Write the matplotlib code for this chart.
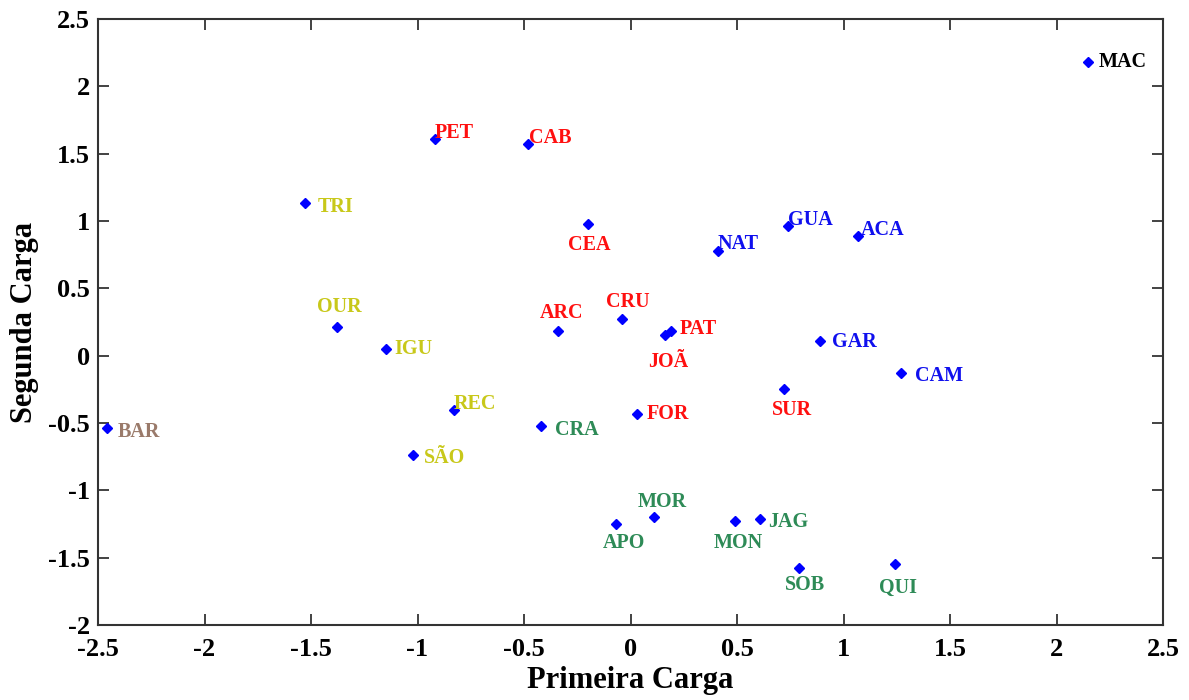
import matplotlib
matplotlib.use('Agg')
import matplotlib.pyplot as plt

# site codes and their loadings
sites = ['MAC', 'PET', 'CAB', 'TRI', 'CEA', 'NAT', 'GUA', 'ACA', 'OUR', 'IGU',
         'ARC', 'CRU', 'JOÃ', 'PAT', 'GAR', 'CAM', 'SUR', 'REC', 'FOR', 'CRA',
         'BAR', 'SÃO', 'MOR', 'APO', 'MON', 'JAG', 'SOB', 'QUI']
primeira = [2.15, -0.92, -0.48, -1.53, -0.20, 0.41, 0.74, 1.07, -1.38, -1.15,
            -0.34, -0.04, 0.16, 0.19, 0.89, 1.27, 0.72, -0.83, 0.03, -0.42,
            -2.46, -1.02, 0.11, -0.07, 0.49, 0.61, 0.79, 1.24]
segunda = [2.18, 1.61, 1.57, 1.13, 0.98, 0.78, 0.96, 0.89, 0.21, 0.05,
           0.18, 0.27, 0.15, 0.18, 0.11, -0.13, -0.25, -0.40, -0.43, -0.52,
           -0.54, -0.74, -1.20, -1.25, -1.23, -1.21, -1.58, -1.55]
groups = ['preto', 'vermelho', 'vermelho', 'amarelo', 'vermelho', 'azul', 'azul', 'azul',
          'amarelo', 'amarelo', 'vermelho', 'vermelho', 'vermelho', 'vermelho', 'azul',
          'azul', 'vermelho', 'amarelo', 'vermelho', 'verde', 'marrom', 'amarelo',
          'verde', 'verde', 'verde', 'verde', 'verde', 'verde']

group_colors = {'preto': '#000000', 'vermelho': '#ff1010', 'amarelo': '#c8c81a',
                'azul': '#1010ee', 'verde': '#2e8b57', 'marrom': '#9a7a6a'}

# label placement (pixel offset, alignment)
label_pos = {
    'MAC': (10, 0, 'left'), 'PET': (0, 6, 'left'), 'CAB': (1, 6, 'left'),
    'TRI': (13, -4, 'left'), 'CEA': (1, -21, 'center'), 'NAT': (0, 7, 'left'),
    'GUA': (0, 6, 'left'), 'ACA': (2, 6, 'left'), 'OUR': (3, 20, 'center'),
    'IGU': (9, 0, 'left'), 'ARC': (4, 18, 'center'), 'CRU': (6, 17, 'center'),
    'JOÃ': (4, -27, 'center'), 'PAT': (9, 2, 'left'), 'GAR': (12, -1, 'left'),
    'CAM': (14, -3, 'left'), 'SUR': (8, -21, 'center'), 'REC': (0, 6, 'left'),
    'FOR': (10, 0, 'left'), 'CRA': (14, -4, 'left'), 'BAR': (11, -4, 'left'),
    'SÃO': (11, -3, 'left'), 'MOR': (8, 15, 'center'), 'APO': (8, -19, 'center'),
    'MON': (3, -22, 'center'), 'JAG': (8, -3, 'left'), 'SOB': (6, -17, 'center'),
    'QUI': (3, -23, 'center'),
}

plt.rcParams['font.family'] = ['Liberation Serif', 'DejaVu Serif']
plt.rcParams['font.weight'] = 'bold'

fig = plt.figure(figsize=(11.89, 7.0), dpi=100)
ax = fig.add_axes([98 / 1189, 75 / 700, 1065 / 1189, 606 / 700])

ax.plot(primeira, segunda, 'D', color='#0000ff', markersize=5, linestyle='none')

for name, xv, yv, g in zip(sites, primeira, segunda, groups):
    dx, dy, ha = label_pos[name]
    ax.annotate(name, (xv, yv), xytext=(dx, dy), textcoords='offset pixels',
                ha=ha, va='center', fontsize=14.5, fontweight='bold',
                color=group_colors[g])

ax.set_xlim(-2.5, 2.5)
ax.set_ylim(-2, 2.5)
ax.set_xticks([-2.5, -2, -1.5, -1, -0.5, 0, 0.5, 1, 1.5, 2, 2.5])
ax.set_yticks([-2, -1.5, -1, -0.5, 0, 0.5, 1, 1.5, 2, 2.5])
ax.set_xticklabels(['-2.5', '-2', '-1.5', '-1', '-0.5', '0', '0.5', '1', '1.5', '2', '2.5'])
ax.set_yticklabels(['-2', '-1.5', '-1', '-0.5', '0', '0.5', '1', '1.5', '2', '2.5'])
ax.tick_params(direction='in', length=8, width=1.2, top=True, right=True,
               labelsize=19, colors='#222222', labelcolor='black')
ax.tick_params(axis='x', pad=9)
ax.tick_params(axis='y', pad=6)
for s in ax.spines.values():
    s.set_linewidth(1.5)
    s.set_color('#333333')

ax.set_xlabel('Primeira Carga', fontsize=22, fontweight='bold', labelpad=4)
ax.set_ylabel('Segunda Carga', fontsize=22, fontweight='bold', labelpad=6)

fig.savefig('out.png', dpi=100)
